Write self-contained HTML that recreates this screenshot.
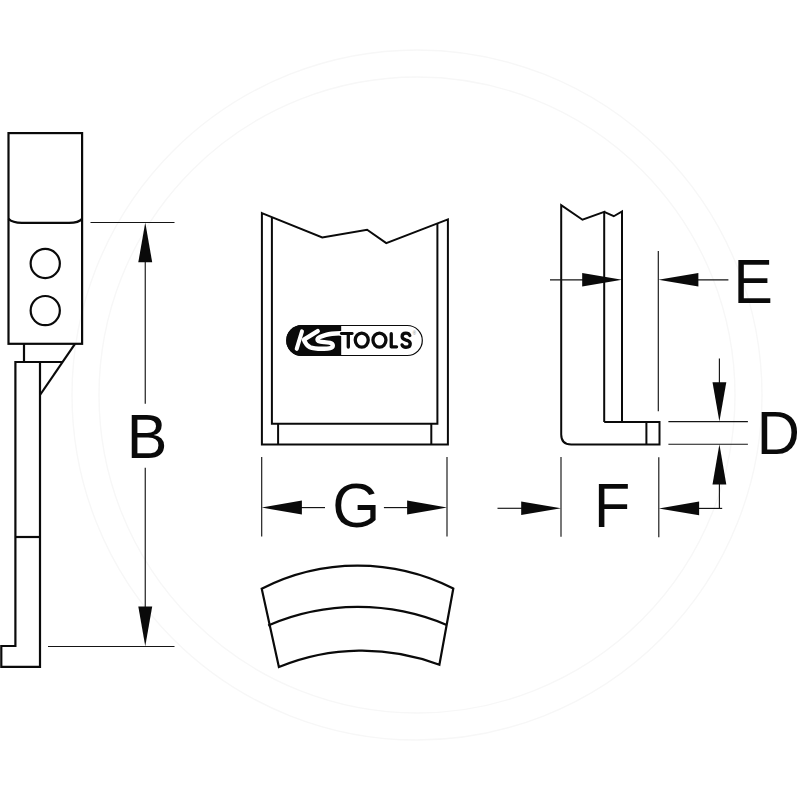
<!DOCTYPE html>
<html>
<head>
<meta charset="utf-8">
<title>KS Tools dimension drawing</title>
<style>
html,body{margin:0;padding:0;background:#ffffff;}
body{width:800px;height:800px;overflow:hidden;font-family:"Liberation Sans",sans-serif;}
svg{display:block;}
text{font-family:"Liberation Sans",sans-serif;}
</style>
</head>
<body>
<svg width="800" height="800" viewBox="0 0 800 800">
<rect x="0" y="0" width="800" height="800" fill="#ffffff"/>

<!-- very faint background watermark ring -->
<g fill="none" stroke="#f7f7f7" stroke-width="1.4">
  <circle cx="417" cy="395" r="345"/>
  <circle cx="417" cy="395" r="318"/>
</g>

<!-- ============ LEFT PIECE (side view) ============ -->
<g fill="none" stroke="#0a0a0a" stroke-width="2.2" stroke-linejoin="miter" stroke-linecap="butt">
  <rect x="8.5" y="133.1" width="73.6" height="210.7"/>
  <path d="M8.5 218.8 C11 221.5 15 222.9 22 222.9 L69 222.9 C76 222.9 80 221.5 82.1 218.8"/>
  <circle cx="45.25" cy="263.5" r="14.6"/>
  <circle cx="45.25" cy="310.6" r="14.6"/>
  <path d="M24 343.8 L24 362"/>
  <path d="M75 343.8 L40 395"/>
  <path d="M63 362 L15.4 362 L15.4 646 L1.3 646 L1.3 666.9 L40 666.9 L40 362"/>
  <path d="M15.4 537 L40 537"/>
</g>

<!-- B dimension -->
<g fill="none" stroke="#151515" stroke-width="1.15">
  <path d="M90.5 222.5 L174.5 222.5"/>
  <path d="M48 646.5 L174.5 646.5"/>
  <path d="M145.25 260 L145.25 403.7"/>
  <path d="M145.25 467.8 L145.25 608"/>
</g>
<g fill="#0a0a0a" stroke="none">
  <path d="M145.25 222.5 L152.2 262.3 L138.3 262.3 Z"/>
  <path d="M145.25 646.3 L152.2 606.5 L138.3 606.5 Z"/>
</g>
<text transform="translate(126.86 458.25) scale(0.9819 1.0116)" font-size="62" fill="#0a0a0a">B</text>

<!-- ============ MIDDLE PIECE (front view) ============ -->
<g fill="none" stroke="#0a0a0a" stroke-width="2" stroke-linejoin="miter">
  <path d="M261.9 213.1 L322.25 237.5 L367.1 229.75 L386.25 243.1 L447.9 219.4 L447.9 444.4 L261.9 444.4 Z"/>
  <path d="M271.9 217.2 L271.9 423.75 L437.4 423.75 L437.4 223.4"/>
  <path d="M278.1 423.75 L278.1 444.4"/>
  <path d="M431.3 423.75 L431.3 444.4"/>
</g>

<!-- KS TOOLS logo -->
<g>
  <title>KS TOOLS</title>
  <rect x="286.8" y="325.5" width="135.5" height="30" rx="15" ry="15" fill="#ffffff" stroke="#0a0a0a" stroke-width="1.2"/>
  <path d="M341.2 324.9 L301.8 324.9 A15.6 15.6 0 0 0 301.8 356.1 L341.2 356.1 Z" fill="#0a0a0a"/>
  <!-- KS (white, on black) -->
  <g fill="none" stroke="#ffffff" stroke-width="4.4" stroke-linecap="round" stroke-linejoin="round">
    <path d="M302 331.3 L296.7 348.9" stroke-width="4"/>
    <path d="M317.7 331.1 L303.9 339.7 C305 342.6 307 345.6 310 347.2 C313 348.6 318 348.9 324 348.8 C328.5 348.7 332.8 348.4 332.8 345.6 C332.8 342.7 328 342.4 324 342.1 C320.5 341.9 317.5 341.6 317.5 339.7 C317.5 337.6 321.5 336.3 326 334.9 C329 334 334 333.4 340 333.3"/>
  </g>
  <!-- TOOLS (rounded bold lettering) -->
  <path d="M341.35 333.55 L352.15 333.55" fill="none" stroke="#ffffff" stroke-width="5" stroke-linecap="round"/>
  <g fill="none" stroke="#0a0a0a" stroke-width="3.3" stroke-linecap="round" stroke-linejoin="round">
    <path d="M341.3 333.5 L352.2 333.5" stroke-width="2.8"/>
    <path d="M348.3 333.6 L348.3 347.05"/>
    <ellipse cx="361.75" cy="340.1" rx="6.5" ry="6.95"/>
    <ellipse cx="379.45" cy="340.1" rx="6.5" ry="6.95"/>
    <path d="M391.25 333.65 L391.25 346.85 L396.55 346.85"/>
    <path d="M409.8 335.5 C409.2 333.9 407.6 333.15 405.9 333.15 C403.5 333.15 402.1 334.7 402.1 336.6 C402.1 338.9 404 339.6 406.1 340.2 C408.4 340.8 410.25 341.6 410.25 343.7 C410.25 345.9 408.6 347.25 406 347.25 C403.8 347.25 402.6 346.4 402.05 344.9"/>
  </g>
  <text x="412.7" y="334.6" font-size="4.5" fill="#8a8a8a">®</text>
</g>

<!-- G dimension -->
<g fill="none" stroke="#151515" stroke-width="1.15">
  <path d="M261.7 456.9 L261.7 536.6"/>
  <path d="M447 456.9 L447 536.6"/>
  <path d="M300 507.6 L325 507.6"/>
  <path d="M383.9 507.6 L409 507.6"/>
</g>
<g fill="#0a0a0a" stroke="none">
  <path d="M261.7 507.6 L301.9 500.6 L301.9 514.6 Z"/>
  <path d="M447 507.6 L407.1 500.6 L407.1 514.6 Z"/>
</g>
<text transform="translate(332.30 526.74) scale(0.9944 1.0046)" font-size="62" fill="#0a0a0a">G</text>

<!-- ============ ARC PIECE (top view) ============ -->
<g fill="none" stroke="#0a0a0a" stroke-width="2.2" stroke-linejoin="miter">
  <path d="M261.7 588.7 A211 211 0 0 1 453.3 588.5 L439.4 664.8 A218 218 0 0 0 278.9 667 Z"/>
  <path d="M268.2 625.5 A227 227 0 0 1 446.7 625"/>
</g>

<!-- ============ RIGHT PIECE (side view) ============ -->
<g fill="none" stroke="#0a0a0a" stroke-width="2" stroke-linejoin="miter">
  <path d="M604.2 422 L604.2 211.9 L582.5 219.75 L561.2 205.25 L561.2 434.4 Q561.2 444.4 571.2 444.4 L659.5 444.4 L659.5 422 L604.2 422"/>
  <path d="M604.2 211.9 L613.75 216.25 L622 211.5 L622 422"/>
  <path d="M646.4 422 L646.4 444.4"/>
</g>

<!-- E dimension -->
<g fill="none" stroke="#151515" stroke-width="1.15">
  <path d="M658.3 251 L658.3 411.2"/>
  <path d="M550 279.8 L584 279.8"/>
  <path d="M696 279.8 L728.4 279.8"/>
</g>
<g fill="#0a0a0a" stroke="none">
  <path d="M622 279.8 L582.2 273 L582.2 286.6 Z"/>
  <path d="M658.3 279.8 L698.4 273 L698.4 286.6 Z"/>
</g>
<text transform="translate(733.56 303.00) scale(0.9523 1.0081)" font-size="62" fill="#0a0a0a">E</text>

<!-- D dimension -->
<g fill="none" stroke="#151515" stroke-width="1.15">
  <path d="M668.4 421.6 L747.9 421.6"/>
  <path d="M668.4 444.2 L747.9 444.2"/>
  <path d="M719.4 358.4 L719.4 384"/>
  <path d="M719.4 482 L719.4 508.4"/>
  <path d="M697 508.4 L722.2 508.4"/>
</g>
<g fill="#0a0a0a" stroke="none">
  <path d="M719.4 421.6 L726.3 382.2 L712.5 382.2 Z"/>
  <path d="M719.4 444.2 L726.3 484.4 L712.5 484.4 Z"/>
</g>
<text transform="translate(756.70 454.05) scale(0.9640 0.9928)" font-size="62" fill="#0a0a0a">D</text>

<!-- F dimension -->
<g fill="none" stroke="#151515" stroke-width="1.15">
  <path d="M561 456.9 L561 536.8"/>
  <path d="M658.8 457.2 L658.8 537.2"/>
  <path d="M497.5 508.3 L523 508.3"/>
</g>
<g fill="#0a0a0a" stroke="none">
  <path d="M561 508.3 L521.2 501.5 L521.2 515.1 Z"/>
  <path d="M658.8 508.4 L699.1 501.6 L699.1 515.2 Z"/>
</g>
<text transform="translate(593.93 527.30) scale(0.9570 1.0081)" font-size="62" fill="#0a0a0a">F</text>

</svg>
</body>
</html>
